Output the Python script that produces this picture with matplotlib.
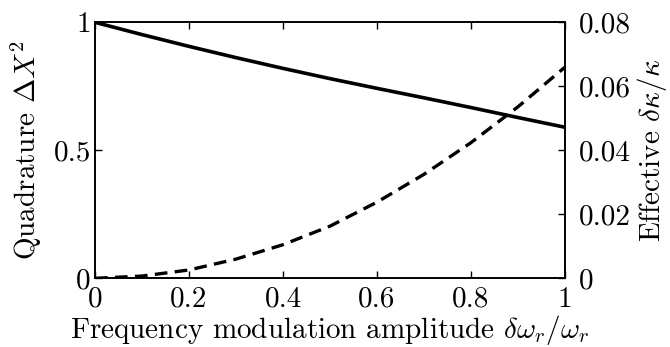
import matplotlib
matplotlib.use("Agg")
import matplotlib.pyplot as plt
from matplotlib.ticker import FixedLocator, FuncFormatter

plt.rcParams['font.family'] = 'serif'
plt.rcParams['font.serif'] = ['cmr10', 'DejaVu Serif']
plt.rcParams['mathtext.fontset'] = 'cm'
plt.rcParams['axes.formatter.use_mathtext'] = True

# modulation amplitude and the two curves
amplitude = [0.0, 0.1, 0.2, 0.3, 0.4, 0.5, 0.6, 0.7, 0.8, 0.9, 1.0]
quadrature = [1.0, 0.952, 0.906, 0.862, 0.82, 0.78, 0.742, 0.705, 0.667, 0.628, 0.59]
kappa_eff = [0.0, 0.0007, 0.0026, 0.006, 0.0105, 0.0163, 0.0238, 0.0325, 0.0424, 0.0536, 0.066]

x_ticks = [0, 0.2, 0.4, 0.6, 0.8, 1]
left_ticks = [0, 0.5, 1]
right_ticks = [0, 0.02, 0.04, 0.06, 0.08]

fmt = FuncFormatter(lambda v, p: "%g" % v)
fs = 21

fig = plt.figure(figsize=(6.7, 3.47), dpi=100)
ax = fig.add_axes([0.1418, 0.198, 0.7015, 0.7377])
ax2 = ax.twinx()

ax.plot(amplitude, quadrature, color="black", lw=2.6, solid_capstyle="butt")
ax2.plot(amplitude, kappa_eff, color="black", lw=2.4, dashes=(3.8, 2.2))

ax.set_xlim(0, 1)
ax.set_ylim(0, 1)
ax2.set_ylim(0, 0.08)

ax.xaxis.set_major_locator(FixedLocator(x_ticks))
ax.yaxis.set_major_locator(FixedLocator(left_ticks))
ax2.yaxis.set_major_locator(FixedLocator(right_ticks))
ax.xaxis.set_major_formatter(fmt)
ax.yaxis.set_major_formatter(fmt)
ax2.yaxis.set_major_formatter(fmt)

ax.tick_params(axis="x", direction="in", top=True, length=5, width=1, labelsize=fs, pad=6)
ax.tick_params(axis="y", direction="in", right=False, length=5, width=1, labelsize=fs, pad=3)
ax2.tick_params(axis="y", direction="in", length=5, width=1, labelsize=fs, pad=10)

for a in (ax, ax2):
    for s in a.spines.values():
        s.set_linewidth(1.2)

ax.set_xlabel(r"Frequency modulation amplitude $\delta\omega_r/\omega_r$", fontsize=fs, labelpad=0)
ax.set_ylabel(r"Quadrature $\Delta X^2$", fontsize=fs, labelpad=7)
ax2.set_ylabel(r"Effective $\delta\kappa/\kappa$", fontsize=fs, labelpad=3)

fig.savefig("out.png", dpi=100)
